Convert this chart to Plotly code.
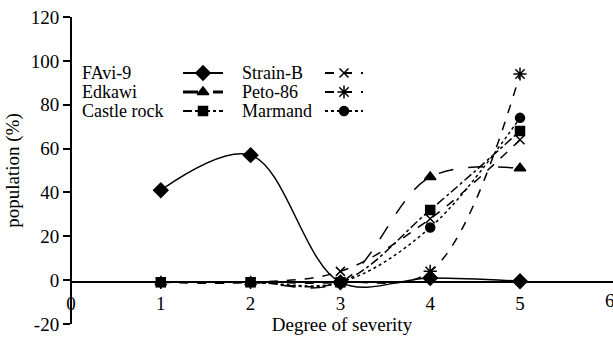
import plotly.graph_objects as go

x_vals = [1, 2, 3, 4, 5]
series_names = ["FAvi-9", "Edkawi", "Castle rock", "Strain-B", "Peto-86", "Marmand"]
favi9 = [41, 57, -1, 1, -0.5]
edkawi = [-1, -1, -1, 47, 51]
castle_rock = [-1, -1, -1, 32, 68]
strain_b = [-1, -1, 4, 28, 64]
peto86 = [-1, -1, -1, 4, 94]
marmand = [-1, -1, -1, 24, 74]
x_ticks = [0, 1, 2, 3, 4, 5]
x_edge_tick = 6
y_ticks = [-20, 0, 20, 40, 60, 80, 100, 120]
y_tick_labels = ["-20", "0", "20", "40", "60", "80", "100", "120"]

series = [favi9, edkawi, castle_rock, strain_b, peto86, marmand]
dashes = ["solid", "longdash", "dashdot", "dash", "dash", "dot"]
symbols = ["diamond", "triangle-up", "square", "x-thin-open", "asterisk-open", "circle"]
msizes = [11, 10, 9, 9, 11, 9]

FONT = "Liberation Serif, Times New Roman, DejaVu Serif, serif"
FS = 19
FS_LEG = 18
W, H = 613, 337
ML, MR, MT, MB = 71, 0, 17, 13

fig = go.Figure()
for name, ys, d, s, ms in zip(series_names, series, dashes, symbols, msizes):
    fig.add_trace(go.Scatter(
        x=x_vals, y=ys, mode="lines+markers", name=name,
        line=dict(color="black", width=1.5, dash=d, shape="spline", smoothing=1),
        marker=dict(symbol=s, size=ms, color="black", line=dict(color="black", width=1.5)),
        showlegend=False, cliponaxis=False,
    ))

# custom legend (text left, sample right) on a pixel-coordinate overlay axis
leg_rows = [73, 92, 111]
leg_cols = [(80, 183, 223), (240, 325, 363)]
for i, (name, d, s, ms) in enumerate(zip(series_names, dashes, symbols, msizes)):
    col, row = divmod(i, 3)
    tx, x0, x1 = leg_cols[col]
    yy = leg_rows[row]
    fig.add_trace(go.Scatter(
        x=[x0, x1], y=[yy, yy], mode="lines", xaxis="x2", yaxis="y2",
        line=dict(color="black", width=1.8 if i != 1 else 3, dash=d), showlegend=False, hoverinfo="skip"))
    fig.add_trace(go.Scatter(
        x=[(x0 + x1) / 2], y=[yy], mode="markers", xaxis="x2", yaxis="y2",
        marker=dict(symbol=s, size=ms, color="black", line=dict(color="black", width=1.5)),
        showlegend=False, hoverinfo="skip"))
    fig.add_annotation(x=tx, y=yy, xref="x2", yref="y2", text=name, showarrow=False,
                       xanchor="left", yanchor="middle", font=dict(family=FONT, size=FS_LEG, color="black"))

ypos = (-1 - (-20)) / 140.0  # x axis crossing at y = -1

# tick label "6" sits at the right edge of the page (partly cut in the reference)
fig.add_annotation(x=x_edge_tick, y=-1, xref="x", yref="y", text=str(x_edge_tick), showarrow=False,
                   xanchor="center", yanchor="top", yshift=-6, font=dict(family=FONT, size=FS, color="black"))

fig.update_layout(
    width=W, height=H, margin=dict(l=ML, r=MR, t=MT, b=MB),
    paper_bgcolor="white", plot_bgcolor="white",
    font=dict(family=FONT, size=FS, color="black"),
    xaxis=dict(range=[0, 542 / 89.8], tickvals=x_ticks, ticktext=[str(v) for v in x_ticks],
               showgrid=False, zeroline=False, showline=True, linecolor="black", linewidth=1.5,
               ticks="outside", ticklen=4, tickcolor="rgba(0,0,0,0)",
               anchor="free", position=ypos,
               title=dict(text="Degree of severity", standoff=0, font=dict(size=FS))),
    yaxis=dict(range=[-20, 120], tickvals=y_ticks, ticktext=y_tick_labels,
               showgrid=False, zeroline=False, anchor="free", position=0,
               showline=True, linecolor="black", linewidth=2, ticks="outside", ticklen=7,
               tickwidth=2, tickcolor="black",
               title=dict(text="population (%)", standoff=5, font=dict(size=FS))),
    xaxis2=dict(range=[ML, W - MR], overlaying="x", visible=False, fixedrange=True),
    yaxis2=dict(range=[H - MB, MT], overlaying="y", visible=False, fixedrange=True, anchor="x2"),
    showlegend=False,
)

fig.write_html("out.html", config={"displayModeBar": False},
               post_script="document.body.style.margin='0';")
